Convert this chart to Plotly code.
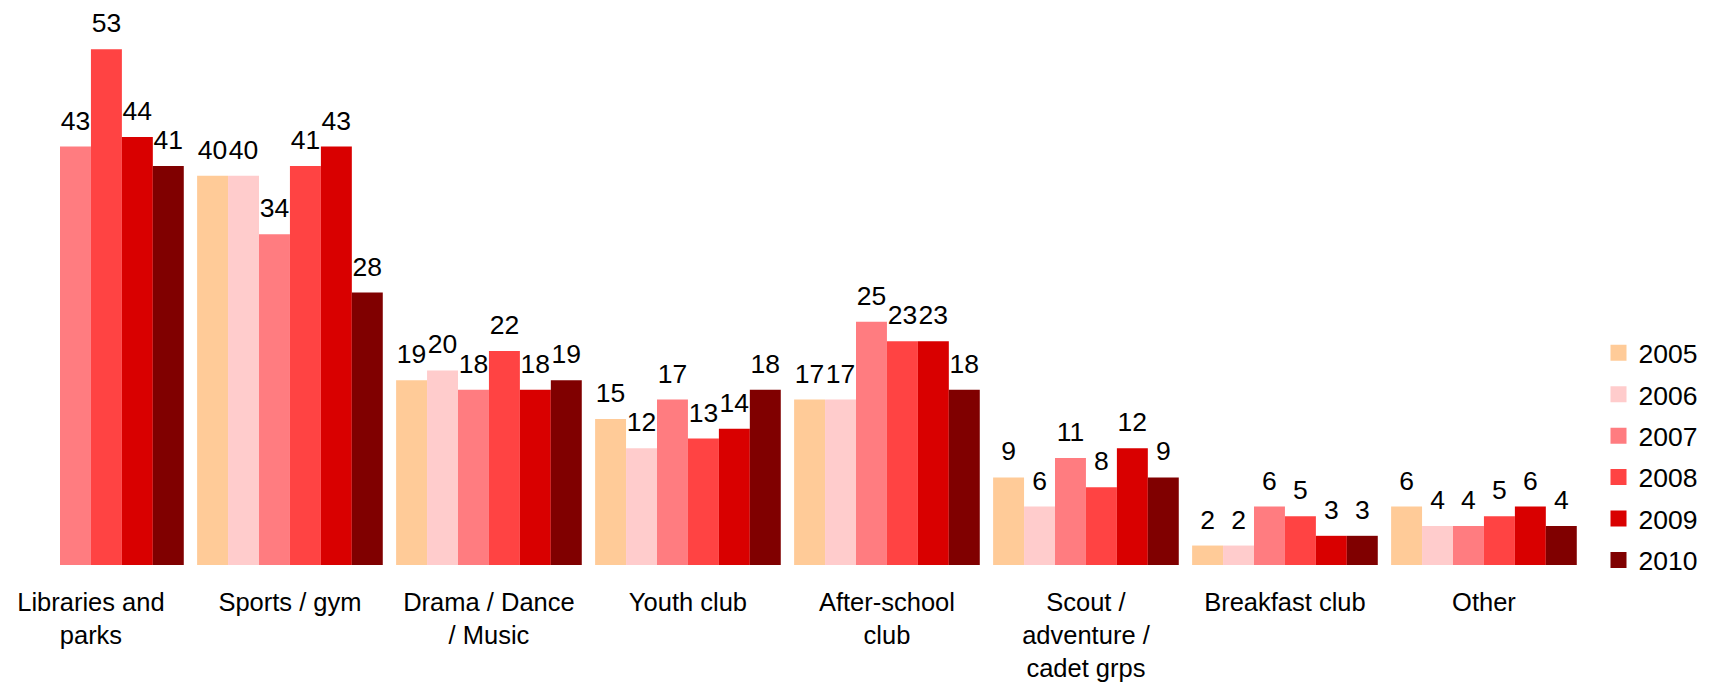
import plotly.graph_objects as go

categories = ["Libraries and<br>parks", "Sports / gym", "Drama / Dance<br>/ Music", "Youth club",
              "After-school<br>club", "Scout /<br>adventure /<br>cadet grps", "Breakfast club", "Other"]
years = ["2005", "2006", "2007", "2008", "2009", "2010"]
v2005 = [None, 40, 19, 15, 17, 9, 2, 6]
v2006 = [None, 40, 20, 12, 17, 6, 2, 4]
v2007 = [43, 34, 18, 17, 25, 11, 6, 4]
v2008 = [53, 41, 22, 13, 23, 8, 5, 5]
v2009 = [44, 43, 18, 14, 23, 12, 3, 6]
v2010 = [41, 28, 19, 18, 18, 9, 3, 4]
series = [v2005, v2006, v2007, v2008, v2009, v2010]
colors = ["#FFCB98", "#FFCCCC", "#FF7C80", "#FF4343", "#D90000", "#800000"]

FONT = "Liberation Sans, Arial, sans-serif"
xpos = list(range(len(categories)))

fig = go.Figure()
# bars
for yr, vals, col in zip(years, series, colors):
    fig.add_trace(go.Bar(
        x=xpos, y=vals, name=yr, marker=dict(color=col, line=dict(width=0)),
        showlegend=False, hoverinfo="x+y+name",
    ))
# value labels, grouped the same way as the bars
for yr, vals in zip(years, series):
    fig.add_trace(go.Scatter(
        x=xpos, y=vals, mode="markers+text", name=yr,
        text=[("" if v is None else str(v)) for v in vals], textposition="top center",
        textfont=dict(family=FONT, size=26.5, color="black"),
        marker=dict(size=15, color="rgba(0,0,0,0)", line=dict(width=0)),
        cliponaxis=False, showlegend=False, hoverinfo="skip",
    ))
# legend entries (on a hidden overlay axis)
for yr, col in zip(years, colors):
    fig.add_trace(go.Scatter(
        x=[None], y=[None], mode="markers", name=yr, legendgroup=yr,
        xaxis="x2", yaxis="y2",
        marker=dict(symbol="square", size=17, color=col, line=dict(width=0)),
        showlegend=True,
    ))

W, H = 1702, 678
fig.update_layout(
    width=W, height=H,
    margin=dict(l=0, r=102, t=0, b=121, autoexpand=False),
    paper_bgcolor="white", plot_bgcolor="white",
    barmode="group", bargap=0.067, bargroupgap=0,
    scattermode="group", scattergap=0.067,
    font=dict(family=FONT, size=26.5, color="black"),
    showlegend=True,
    legend=dict(xref="container", yref="container", x=1590.5 / W, y=1 - 448.5 / H,
                xanchor="left", yanchor="middle", font=dict(size=26.5, family=FONT),
                traceorder="grouped", tracegroupgap=4, bgcolor="rgba(0,0,0,0)",
                itemwidth=30),
    xaxis=dict(tickmode="array", tickvals=xpos, ticktext=categories,
               range=[-0.4168, -0.4168 + 1600 / 199], showgrid=False, zeroline=False,
               showline=False, ticks="", tickfont=dict(size=25.5, family=FONT),
               ticklabelstandoff=19, automargin=False),
    yaxis=dict(range=[0, 557 / 9.73], visible=False, showgrid=False, zeroline=False),
    xaxis2=dict(overlaying="x", visible=False, range=[0, 1]),
    yaxis2=dict(overlaying="y", visible=False, range=[0, 1]),
)

fig.write_html("out.html")
